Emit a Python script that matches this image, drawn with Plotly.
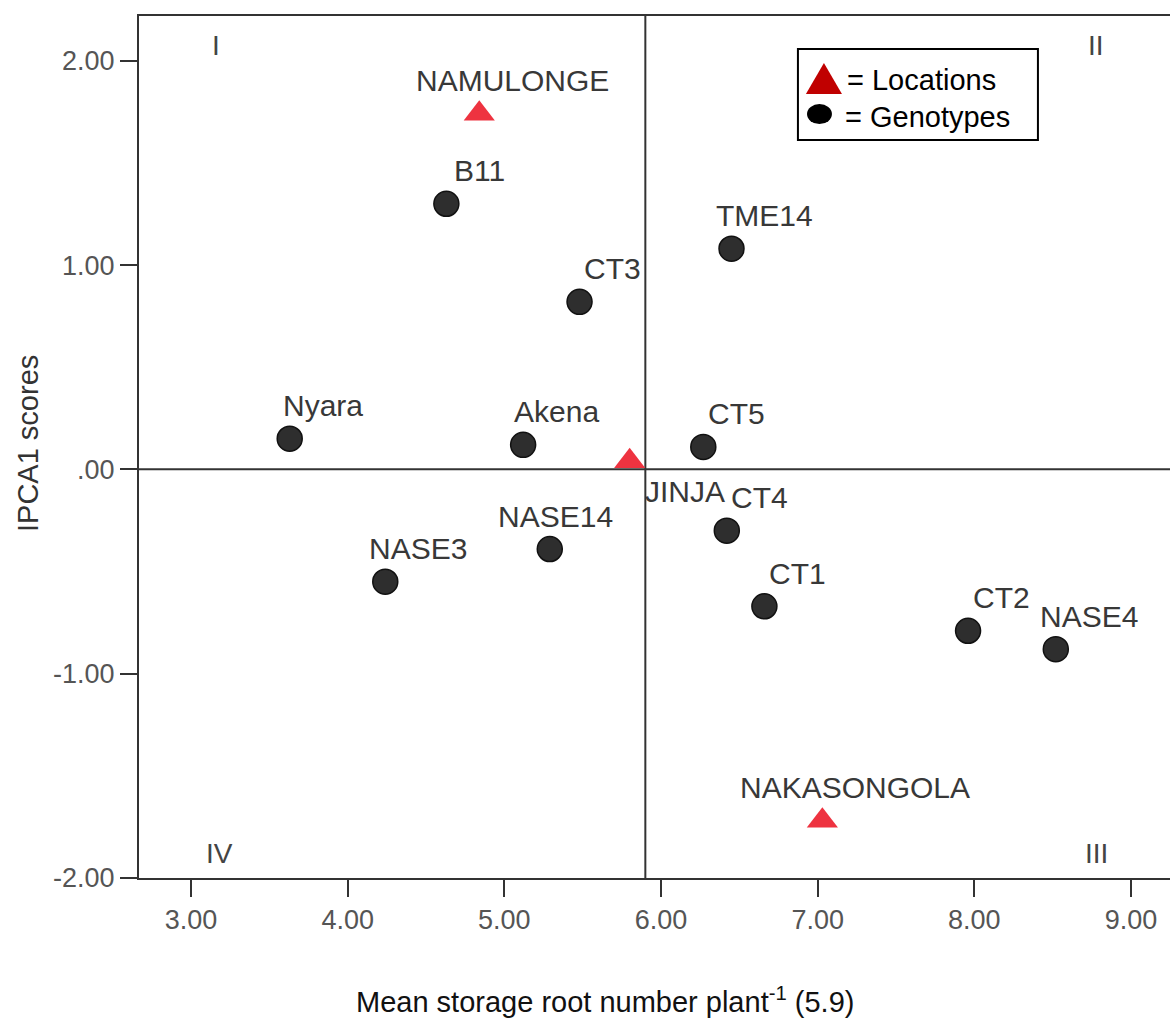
import plotly.graph_objects as go

# Genotype means (x) and IPCA1 scores (y)
genotypes = ["B11", "CT3", "TME14", "Nyara", "Akena", "CT5", "NASE14",
             "NASE3", "CT4", "CT1", "CT2", "NASE4"]
geno_mean = [4.63, 5.48, 6.45, 3.63, 5.12, 6.27, 5.29, 4.24, 6.42, 6.66, 7.96, 8.52]
geno_ipca = [1.30, 0.82, 1.08, 0.15, 0.12, 0.11, -0.39, -0.55, -0.30, -0.67, -0.79, -0.88]

# Location means (x) and IPCA1 scores (y)
locations = ["NAMULONGE", "JINJA", "NAKASONGOLA"]
loc_mean = [4.84, 5.80, 7.03]
loc_ipca = [1.74, 0.04, -1.72]

grand_mean = 5.9

x_ticks = [3, 4, 5, 6, 7, 8, 9]
x_tick_text = ["3.00", "4.00", "5.00", "6.00", "7.00", "8.00", "9.00"]
y_ticks = [-2, -1, 0, 1, 2]
y_tick_text = ["-2.00", "-1.00", ".00", "1.00", "2.00"]

quadrants = ["I", "II", "III", "IV"]

FONT = "Liberation Sans, Arial, sans-serif"
LABEL_SIZE = 30

# label offsets in pixels (default up-right of the marker)
label_shift = {"NASE14": (6, 33), "JINJA": (55, -30)}
default_shift = (33, 33)

fig = go.Figure()

fig.add_trace(go.Scatter(
    x=geno_mean, y=geno_ipca, mode="markers", name="Genotypes",
    marker=dict(symbol="circle", size=25, color="#2e2e2e",
                line=dict(color="#111111", width=1.5)),
    hoverinfo="text", text=genotypes, showlegend=False,
))
fig.add_trace(go.Scatter(
    x=loc_mean, y=loc_ipca, mode="markers", name="Locations",
    marker=dict(symbol="triangle-up", size=27, color="#ee3340",
                line=dict(width=0)),
    hoverinfo="text", text=locations, showlegend=False,
))

annotations = []
for name, xv, yv in list(zip(genotypes, geno_mean, geno_ipca)) + \
        list(zip(locations, loc_mean, loc_ipca)):
    dx, dy = label_shift.get(name, default_shift)
    annotations.append(dict(
        x=xv, y=yv, xref="x", yref="y", text=name, showarrow=False,
        xshift=dx, yshift=dy, xanchor="center", yanchor="middle",
        font=dict(family=FONT, size=LABEL_SIZE, color="#383838"),
    ))

# quadrant numerals
quad_pos = {"I": (3.16, 2.077), "II": (8.777, 2.077),
            "III": (8.783, -1.878), "IV": (3.179, -1.878)}
for q in quadrants:
    qx, qy = quad_pos[q]
    annotations.append(dict(
        x=qx, y=qy, xref="x", yref="y", text=q, showarrow=False,
        xanchor="center", yanchor="middle",
        font=dict(family=FONT, size=28, color="#444444"),
    ))

# legend key text
annotations += [
    dict(x=7.174, y=1.905, xref="x", yref="y", text="= Locations",
         showarrow=False, xanchor="left", yanchor="middle",
         font=dict(family=FONT, size=29, color="#000000")),
    dict(x=7.162, y=1.724, xref="x", yref="y", text="= Genotypes",
         showarrow=False, xanchor="left", yanchor="middle",
         font=dict(family=FONT, size=29, color="#000000")),
]

# axis titles
annotations += [
    dict(x=0.452, y=-0.1415, xref="paper", yref="paper",
         text="Mean storage root number plant<sup>-1</sup> (5.9)",
         showarrow=False, xanchor="center", yanchor="middle",
         font=dict(family=FONT, size=29, color="#111111")),
    dict(x=-0.1077, y=0.5046, xref="paper", yref="paper",
         text="IPCA1 scores", textangle=-90,
         showarrow=False, xanchor="center", yanchor="middle",
         font=dict(family=FONT, size=29, color="#333333")),
]

shapes = [
    # reference lines at grand mean and zero IPCA
    dict(type="line", xref="x", yref="paper", x0=grand_mean, x1=grand_mean,
         y0=0, y1=1, line=dict(color="#333333", width=2), layer="below"),
    dict(type="line", xref="paper", yref="y", x0=0, x1=1, y0=0, y1=0,
         line=dict(color="#333333", width=2), layer="below"),
    # legend box
    dict(type="rect", xref="x", yref="y", x0=6.874, x1=8.406, y0=1.612, y1=2.057,
         line=dict(color="#000000", width=2), fillcolor="white", layer="below"),
    # legend keys
    dict(type="path", xref="x", yref="y",
         path="M 6.925 1.837 L 7.155 1.837 L 7.040 1.989 Z",
         fillcolor="#c00000", line=dict(width=0)),
    dict(type="circle", xref="x", yref="y", x0=6.932, x1=7.091, y0=1.690, y1=1.788,
         fillcolor="#000000", line=dict(width=0)),
]

fig.update_layout(
    width=1170, height=1019,
    margin=dict(l=139, r=0, t=16, b=141),
    paper_bgcolor="white", plot_bgcolor="white",
    annotations=annotations, shapes=shapes,
    font=dict(family=FONT),
)
fig.update_xaxes(
    range=[2.668, 9.249], tickvals=x_ticks, ticktext=x_tick_text,
    ticks="outside", ticklen=17, tickwidth=2, tickcolor="#333333",
    showline=True, linecolor="#333333", linewidth=2, mirror=True,
    showgrid=False, zeroline=False,
    tickfont=dict(family=FONT, size=27, color="#555555"),
)
fig.update_yaxes(
    range=[-2.0, 2.219], tickvals=y_ticks, ticktext=y_tick_text,
    ticks="outside", ticklen=17, tickwidth=2, tickcolor="#333333",
    showline=True, linecolor="#333333", linewidth=2, mirror=False,
    showgrid=False, zeroline=False,
    tickfont=dict(family=FONT, size=27, color="#555555"),
)

fig.write_html("out.html")
